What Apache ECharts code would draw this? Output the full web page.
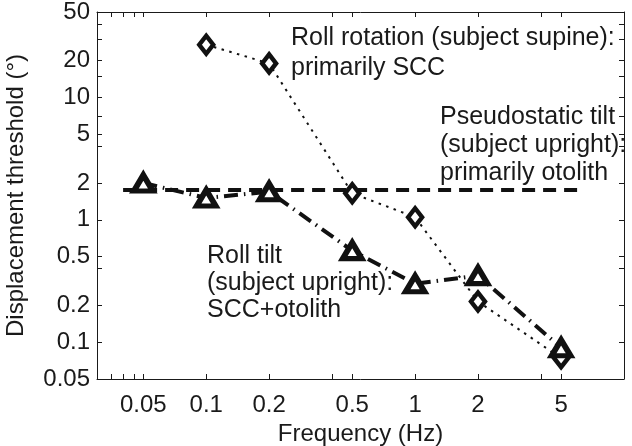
<!DOCTYPE html>
<html><head><meta charset="utf-8">
<script src="https://cdn.jsdelivr.net/npm/echarts@6/dist/echarts.min.js"></script>
<style>html,body{margin:0;padding:0;background:#fff}#c{width:632px;height:446px}</style>
</head><body><div id="c"></div>
<script>
// ---- data ----
const xTicks = [0.05, 0.1, 0.2, 0.5, 1, 2, 5];
const yTicks = [0.05, 0.1, 0.2, 0.5, 1, 2, 5, 10, 20, 50];
const xMinorTicks = [0.035, 0.04, 0.045, 0.4, 4];
const yMinorTicks = [0.4, 4, 7, 15, 30, 40];
const xRange = [0.03, 10];
const yRange = [0.05, 50];

const rotFreq = [0.1, 0.2, 0.5, 1, 2, 5];
const rotThresh = [27, 19, 1.65, 1.05, 0.215, 0.074];
const tiltFreq = [0.05, 0.1, 0.2, 0.5, 1, 2, 5];
const tiltThresh = [2.0, 1.51, 1.7, 0.56, 0.3, 0.35, 0.09];
const pseudoFreq = [0.04, 6];
const pseudoThresh = [1.75, 1.75];

const annoRot = 'Roll rotation (subject supine):\nprimarily SCC';
const annoPseudo = 'Pseudostatic tilt\n(subject upright):\nprimarily otolith';
const annoTilt = 'Roll tilt\n(subject upright):\nSCC+otolith';
const xName = 'Frequency (Hz)';
const yName = 'Displacement threshold (\u00B0)';

// ---- build ----
const L = Math.log10;
const FONT = 'Liberation Sans';
const INK = '#1a1a1a';
const pts = (fs, vs) => fs.map((f, i) => [L(f), L(vs[i])]);
const lbl = ticks => v => { const t = ticks.find(t => Math.abs(L(t) - v) < 1e-6); return t === undefined ? '' : String(t); };

function axisBase(range, ticks, minor, showLabels, pos) {
  return {
    type: 'value', position: pos, min: L(range[0]), max: L(range[1]),
    splitLine: { show: false },
    axisLine: { show: true, onZero: false, lineStyle: { color: INK, width: 1 } },
    axisTick: { show: true, inside: true, length: 5, customValues: ticks.concat(minor).map(L), lineStyle: { color: INK, width: 1 } },
    axisLabel: { show: showLabels, customValues: ticks.map(L), formatter: lbl(ticks), fontSize: 24, fontFamily: FONT, color: INK }
  };
}

const xBottom = axisBase(xRange, xTicks, xMinorTicks, true, 'bottom');
xBottom.axisLabel.margin = 14;
Object.assign(xBottom, { name: xName, nameLocation: 'middle', nameGap: 42, nameTextStyle: { fontSize: 24, fontFamily: FONT, color: INK } });
const xTop = axisBase(xRange, xTicks, xMinorTicks, false, 'top');
const yLeft = axisBase(yRange, yTicks, yMinorTicks, true, 'left');
yLeft.axisLabel.margin = 7;
Object.assign(yLeft, { name: yName, nameLocation: 'middle', nameGap: 69, nameRotate: 90, nameTextStyle: { fontSize: 24, fontFamily: FONT, color: INK } });
const yRight = axisBase(yRange, yTicks, yMinorTicks, false, 'right');

const chart = echarts.init(document.getElementById('c'), null, { renderer: 'canvas' });
chart.setOption({
  animation: false,
  backgroundColor: '#fff',
  grid: { left: 97, top: 12, right: 8, bottom: 67, containLabel: false, outerBoundsMode: 'none' },
  xAxis: [xBottom, xTop],
  yAxis: [yLeft, yRight],
  series: [
    { type: 'line', name: 'pseudo', data: pts(pseudoFreq, pseudoThresh), showSymbol: false, symbol: 'none',
      lineStyle: { color: '#111', width: 4, type: [13, 8] }, z: 2 },
    { type: 'line', name: 'rotation', data: pts(rotFreq, rotThresh), symbol: 'diamond', symbolSize: [14, 18],
      itemStyle: { color: '#fff', borderColor: '#111', borderWidth: 4.5 },
      lineStyle: { color: '#111', width: 2, type: [2.5, 5.5] }, z: 3 },
    { type: 'line', name: 'tilt', data: pts(tiltFreq, tiltThresh), symbol: 'triangle', symbolSize: [19, 16],
      itemStyle: { color: '#fff', borderColor: '#111', borderWidth: 5.5 },
      lineStyle: { color: '#111', width: 4, type: [14, 6, 1.5, 6] }, z: 4 }
  ],
  graphic: [
    { type: 'text', left: 291, top: 23, style: { text: annoRot, fontSize: 25, fontFamily: FONT, fill: INK, lineHeight: 30 } },
    { type: 'text', left: 440, top: 103, style: { text: annoPseudo, fontSize: 25, fontFamily: FONT, fill: INK, lineHeight: 28 } },
    { type: 'text', left: 207, top: 243, style: { text: annoTilt, fontSize: 25, fontFamily: FONT, fill: INK, lineHeight: 27 } }
  ]
});
</script>
</body></html>
